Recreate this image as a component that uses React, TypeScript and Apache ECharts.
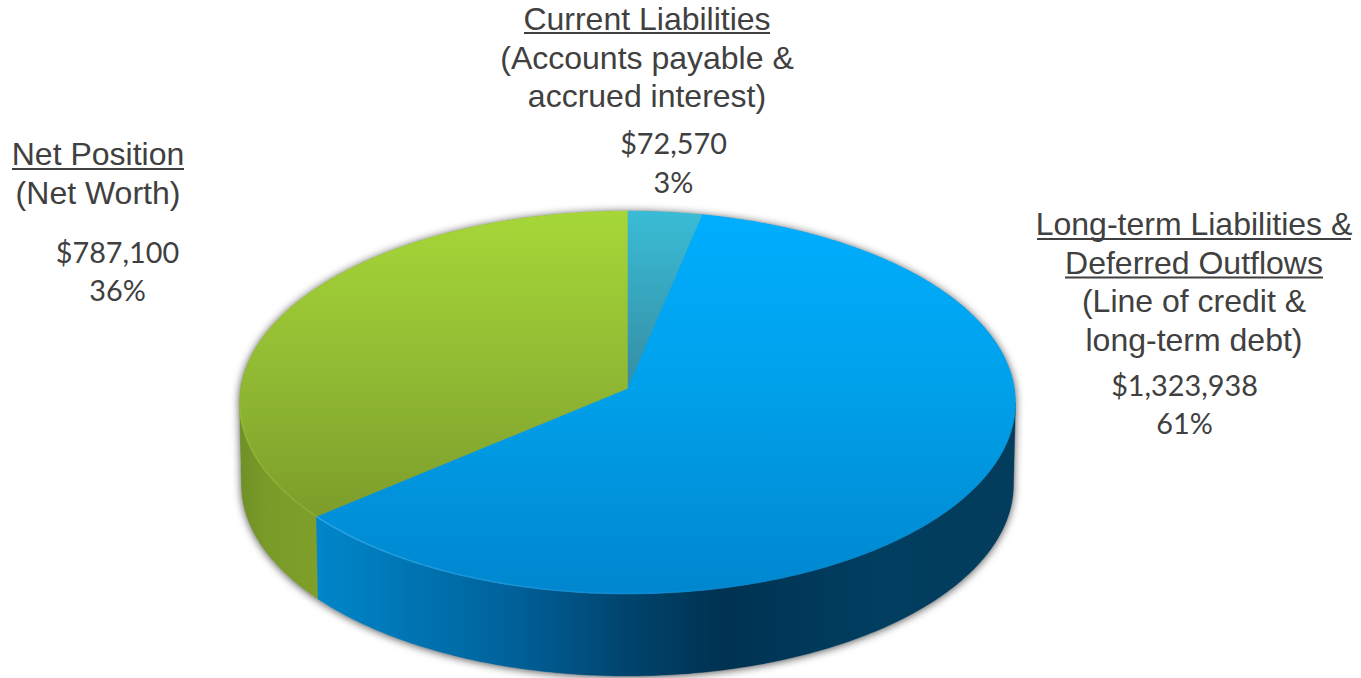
import React, { useEffect, useRef } from "react";
import * as echarts from "echarts";

const categories = ["Current Liabilities", "Long-term Liabilities & Deferred Outflows", "Net Position"];
const values = [72570, 1323938, 787100];

const titleLines = [["Current Liabilities"], ["Long-term Liabilities &", "Deferred Outflows"], ["Net Position"]];
const noteLines = [["(Accounts payable &", "accrued interest)"], ["(Line of credit &", "long-term debt)"], ["(Net Worth)"]];

// Text layout (independent of the data)
const labelLayout = [
  { titleX: 647, titleY: 19, valueX: 673.5, valueY: 143, step: 38.5, valueStep: 39, hw: [123], ul: 13 },
  { titleX: 1194, titleY: 224, valueX: 1184.5, valueY: 385, step: 38.5, valueStep: 38, hw: [157, 129], ul: 14 },
  { titleX: 98, titleY: 154, valueX: 117.5, valueY: 252, step: 38.5, valueStep: 38, hw: [86], ul: 14 },
];

const CX = 627.5;
const CY = 402.5;
const RX = 388;
const RY = 191.5;
const DEPTH = 82;
const BOTTOM_RX = 386;
const APEX_OFFSET = 13.5; // perspective: the pie's centre sits above the ellipse's centre

const total = values.reduce((a, b) => a + b, 0);
const a = APEX_OFFSET / RY;
const toEllipseAngle = (th: number) => {
  const d = 1 + a * Math.cos(th);
  const sx = (Math.sin(th) * Math.sqrt(1 - a * a)) / d;
  const sy = (Math.cos(th) + a) / d;
  let t = Math.atan2(sx, sy);
  if (t < 0) t += Math.PI * 2;
  return t;
};
const pt = (t: number, dy = 0, rx = RX): [number, number] => [
  CX + rx * Math.sin(t),
  CY - RY * Math.cos(t) + dy,
];
const arc = (t0: number, t1: number, dy = 0, rx = RX) => {
  const n = Math.max(2, Math.ceil(Math.abs(t1 - t0) / 0.012));
  const out: [number, number][] = [];
  for (let i = 0; i <= n; i++) out.push(pt(t0 + ((t1 - t0) * i) / n, dy, rx));
  return out;
};

const LG = (x0: number, y0: number, x1: number, y1: number, stops: [number, string][]) =>
  new echarts.graphic.LinearGradient(
    x0, y0, x1, y1,
    stops.map(([offset, color]) => ({ offset, color })),
    true,
  );

const topFills = [
  LG(0, 211, 0, 388, [[0, "#3abcd6"], [1, "#358da3"]]),
  LG(0, 211, 0, 594, [[0, "#00aeff"], [0.5, "#009fe8"], [1, "#0086cf"]]),
  LG(0, 211, 0, 520, [[0, "#a6d738"], [0.55, "#90b833"], [1, "#7c9c2a"]]),
];
const wallFills = [
  "#358da3",
  LG(318, 0, 1015, 0, [[0, "#0086ca"], [0.28, "#00619a"], [0.45, "#00436c"], [0.58, "#003252"], [0.8, "#013e60"], [1, "#043c5c"]]),
  LG(239, 0, 318, 0, [[0, "#6f9026"], [0.4, "#7b9b29"], [1, "#7f9f2a"]]),
];
const rimStrokes = [
  "none",
  LG(318, 0, 760, 0, [[0, "rgba(90,190,250,0.45)"], [0.7, "rgba(60,170,240,0.2)"], [1, "rgba(60,170,240,0)"]]),
  "rgba(170,210,70,0.35)",
];

const LEFT_T = Math.PI * 1.5;
const RIGHT_T = Math.PI * 0.5;

const renderSlice = (_: any, api: any) => {
  const idx = api.value(1);
  let cum = 0;
  for (let i = 0; i < idx; i++) cum += values[i];
  const start = (cum / total) * Math.PI * 2;
  const end = ((cum + api.value(0)) / total) * Math.PI * 2;
  const t0 = start === 0 ? 0 : toEllipseAngle(start);
  const t1 = Math.abs(end - Math.PI * 2) < 1e-9 ? Math.PI * 2 : toEllipseAngle(end);
  const children: any[] = [];
  const w0 = Math.max(t0, RIGHT_T);
  const w1 = Math.min(t1, LEFT_T);
  if (w1 > w0) {
    const top = arc(w0, w1);
    const bot = arc(w1, w0, DEPTH, BOTTOM_RX);
    children.push({
      type: "polygon",
      shape: { points: [...top, ...bot] },
      style: { fill: wallFills[idx], stroke: wallFills[idx], lineWidth: 0.4 },
    });
  }
  const apex: [number, number] = [CX, CY - APEX_OFFSET - 0.5];
  children.push({
    type: "polygon",
    shape: { points: [apex, ...arc(t0, t1)] },
    style: { fill: topFills[idx], stroke: topFills[idx], lineWidth: 0.4 },
  });
  if (w1 > w0 && rimStrokes[idx] !== "none") {
    children.push({
      type: "polyline",
      shape: { points: arc(w0, w1, -0.5) },
      style: { fill: "none", stroke: rimStrokes[idx], lineWidth: 1.5 },
    });
  }
  return { type: "group", children };
};

const renderShadow = () => ({
  type: "polygon",
  shape: { points: [...arc(LEFT_T - Math.PI * 2, RIGHT_T), ...arc(RIGHT_T, LEFT_T, DEPTH, BOTTOM_RX)] },
  style: {
    fill: "#808080",
    shadowBlur: 9,
    shadowColor: "rgba(0,0,0,0.7)",
    shadowOffsetX: 0,
    shadowOffsetY: 1,
  },
});

const TITLE_FONT = '32px "Liberation Sans", Arial, sans-serif';
const VALUE_FONT = '28.8px Lato, "Open Sans", sans-serif';
const TEXT_COLOR = "#404040";

const buildLabels = () => {
  const els: any[] = [];
  categories.forEach((_, i) => {
    const L = labelLayout[i];
    let y = L.titleY;
    titleLines[i].forEach((line, j) => {
      els.push({
        type: "text",
        style: { text: line, x: L.titleX, y, font: TITLE_FONT, fill: TEXT_COLOR, textAlign: "center", textVerticalAlign: "middle" },
      });
      els.push({
        type: "rect",
        shape: { x: L.titleX - L.hw[j], y: y + L.ul, width: L.hw[j] * 2, height: 2 },
        style: { fill: TEXT_COLOR },
      });
      y += L.step;
    });
    noteLines[i].forEach((line) => {
      els.push({
        type: "text",
        style: { text: line, x: L.titleX, y, font: TITLE_FONT, fill: TEXT_COLOR, textAlign: "center", textVerticalAlign: "middle" },
      });
      y += L.step;
    });
    const pct = Math.round((values[i] / total) * 100) + "%";
    ["$" + values[i].toLocaleString("en-US"), pct].forEach((line, j) => {
      els.push({
        type: "text",
        style: { text: line, x: L.valueX, y: L.valueY + j * L.valueStep, font: VALUE_FONT, fill: TEXT_COLOR, textAlign: "center", textVerticalAlign: "middle" },
      });
    });
  });
  return els;
};

export default function App() {
  const ref = useRef<HTMLDivElement>(null);
  useEffect(() => {
    const chart = echarts.init(ref.current!, null, { renderer: "svg" });
    chart.setOption({
      animation: false,
      backgroundColor: "#ffffff",
      series: [
        {
          type: "custom",
          coordinateSystem: "none",
          silent: true,
          z: 1,
          data: [[1]],
          renderItem: renderShadow,
        },
        {
          type: "custom",
          coordinateSystem: "none",
          silent: true,
          z: 2,
          data: values.map((v, i) => ({ name: categories[i], value: [v, i] })),
          renderItem: renderSlice,
        },
      ],
      graphic: { elements: buildLabels() },
    });
    return () => chart.dispose();
  }, []);
  return <div ref={ref} style={{ position: "fixed", left: 0, top: 0, width: 1361, height: 678 }} />;
}
